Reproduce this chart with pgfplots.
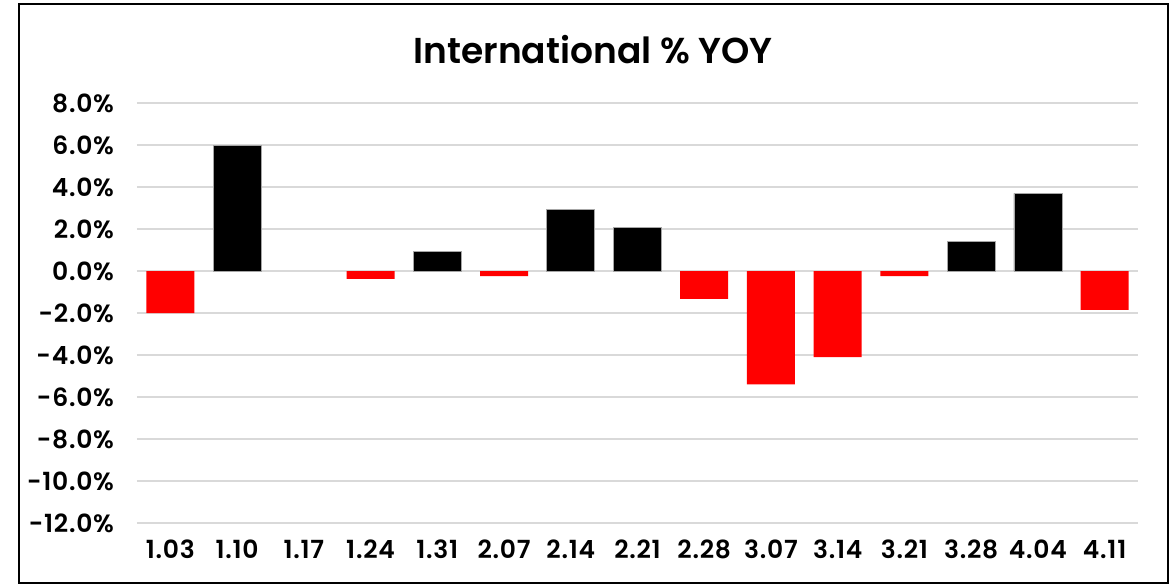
\documentclass[border=0pt]{standalone}
\usepackage{fontspec}
\setmainfont{Poppins}[BoldFont={Poppins SemiBold}]
\newfontfamily\tickfont{Poppins SemiBold}[LetterSpace=3]
\usepackage{pgfplots}
\pgfplotsset{compat=1.18}
\definecolor{gridgray}{RGB}{217,217,217}
\definecolor{barred}{RGB}{255,0,0}
\begin{document}
\begin{tikzpicture}[x=1pt,y=1pt]
\useasboundingbox[fill=white] (-68.5,-31) rectangle (519.5,261.5);
\draw[line width=1pt] (-59,-30) rectangle (515.5,259.5);
\begin{axis}[
  at={(0,0)}, anchor=south west,
  scale only axis,
  width=500.5pt, height=210pt,
  xmin=-0.5, xmax=14.5,
  ymin=-12, ymax=8,
  ytick={-12,-10,...,8},
  xtick={0,...,14},
  xticklabels={1.03,1.10,1.17,1.24,1.31,2.07,2.14,2.21,2.28,3.07,3.14,3.21,3.28,4.04,4.11},
  yticklabel={\pgfmathprintnumber[fixed,fixed zerofill,precision=1]{\tick}\%},
  /pgf/number format/assume math mode=true,
  ticklabel style={font=\tickfont\fontsize{12.5}{14}\selectfont},
  major tick length=0pt,
  axis line style={draw=none},
  ymajorgrids,
  grid style={draw=gridgray, line width=0.8pt},
  yticklabel style={xshift=-8pt},
  xticklabel style={yshift=-5pt},
  clip=false,
]
\addplot[ybar, bar width=24pt, fill=black, draw=gray!70, line width=0.3pt] coordinates {
 (1,6.0) (4,0.94) (6,2.93) (7,2.08) (12,1.42) (13,3.7)
};
\addplot[ybar, bar width=24pt, fill=barred, draw=none] coordinates {
 (0,-2.0) (3,-0.38) (5,-0.24) (8,-1.33) (9,-5.4) (10,-4.1) (11,-0.24) (14,-1.85)
};
\end{axis}
\node[font=\bfseries\fontsize{18}{21}\selectfont] at (228,236.5) {International \% YOY};
\end{tikzpicture}
\end{document}
